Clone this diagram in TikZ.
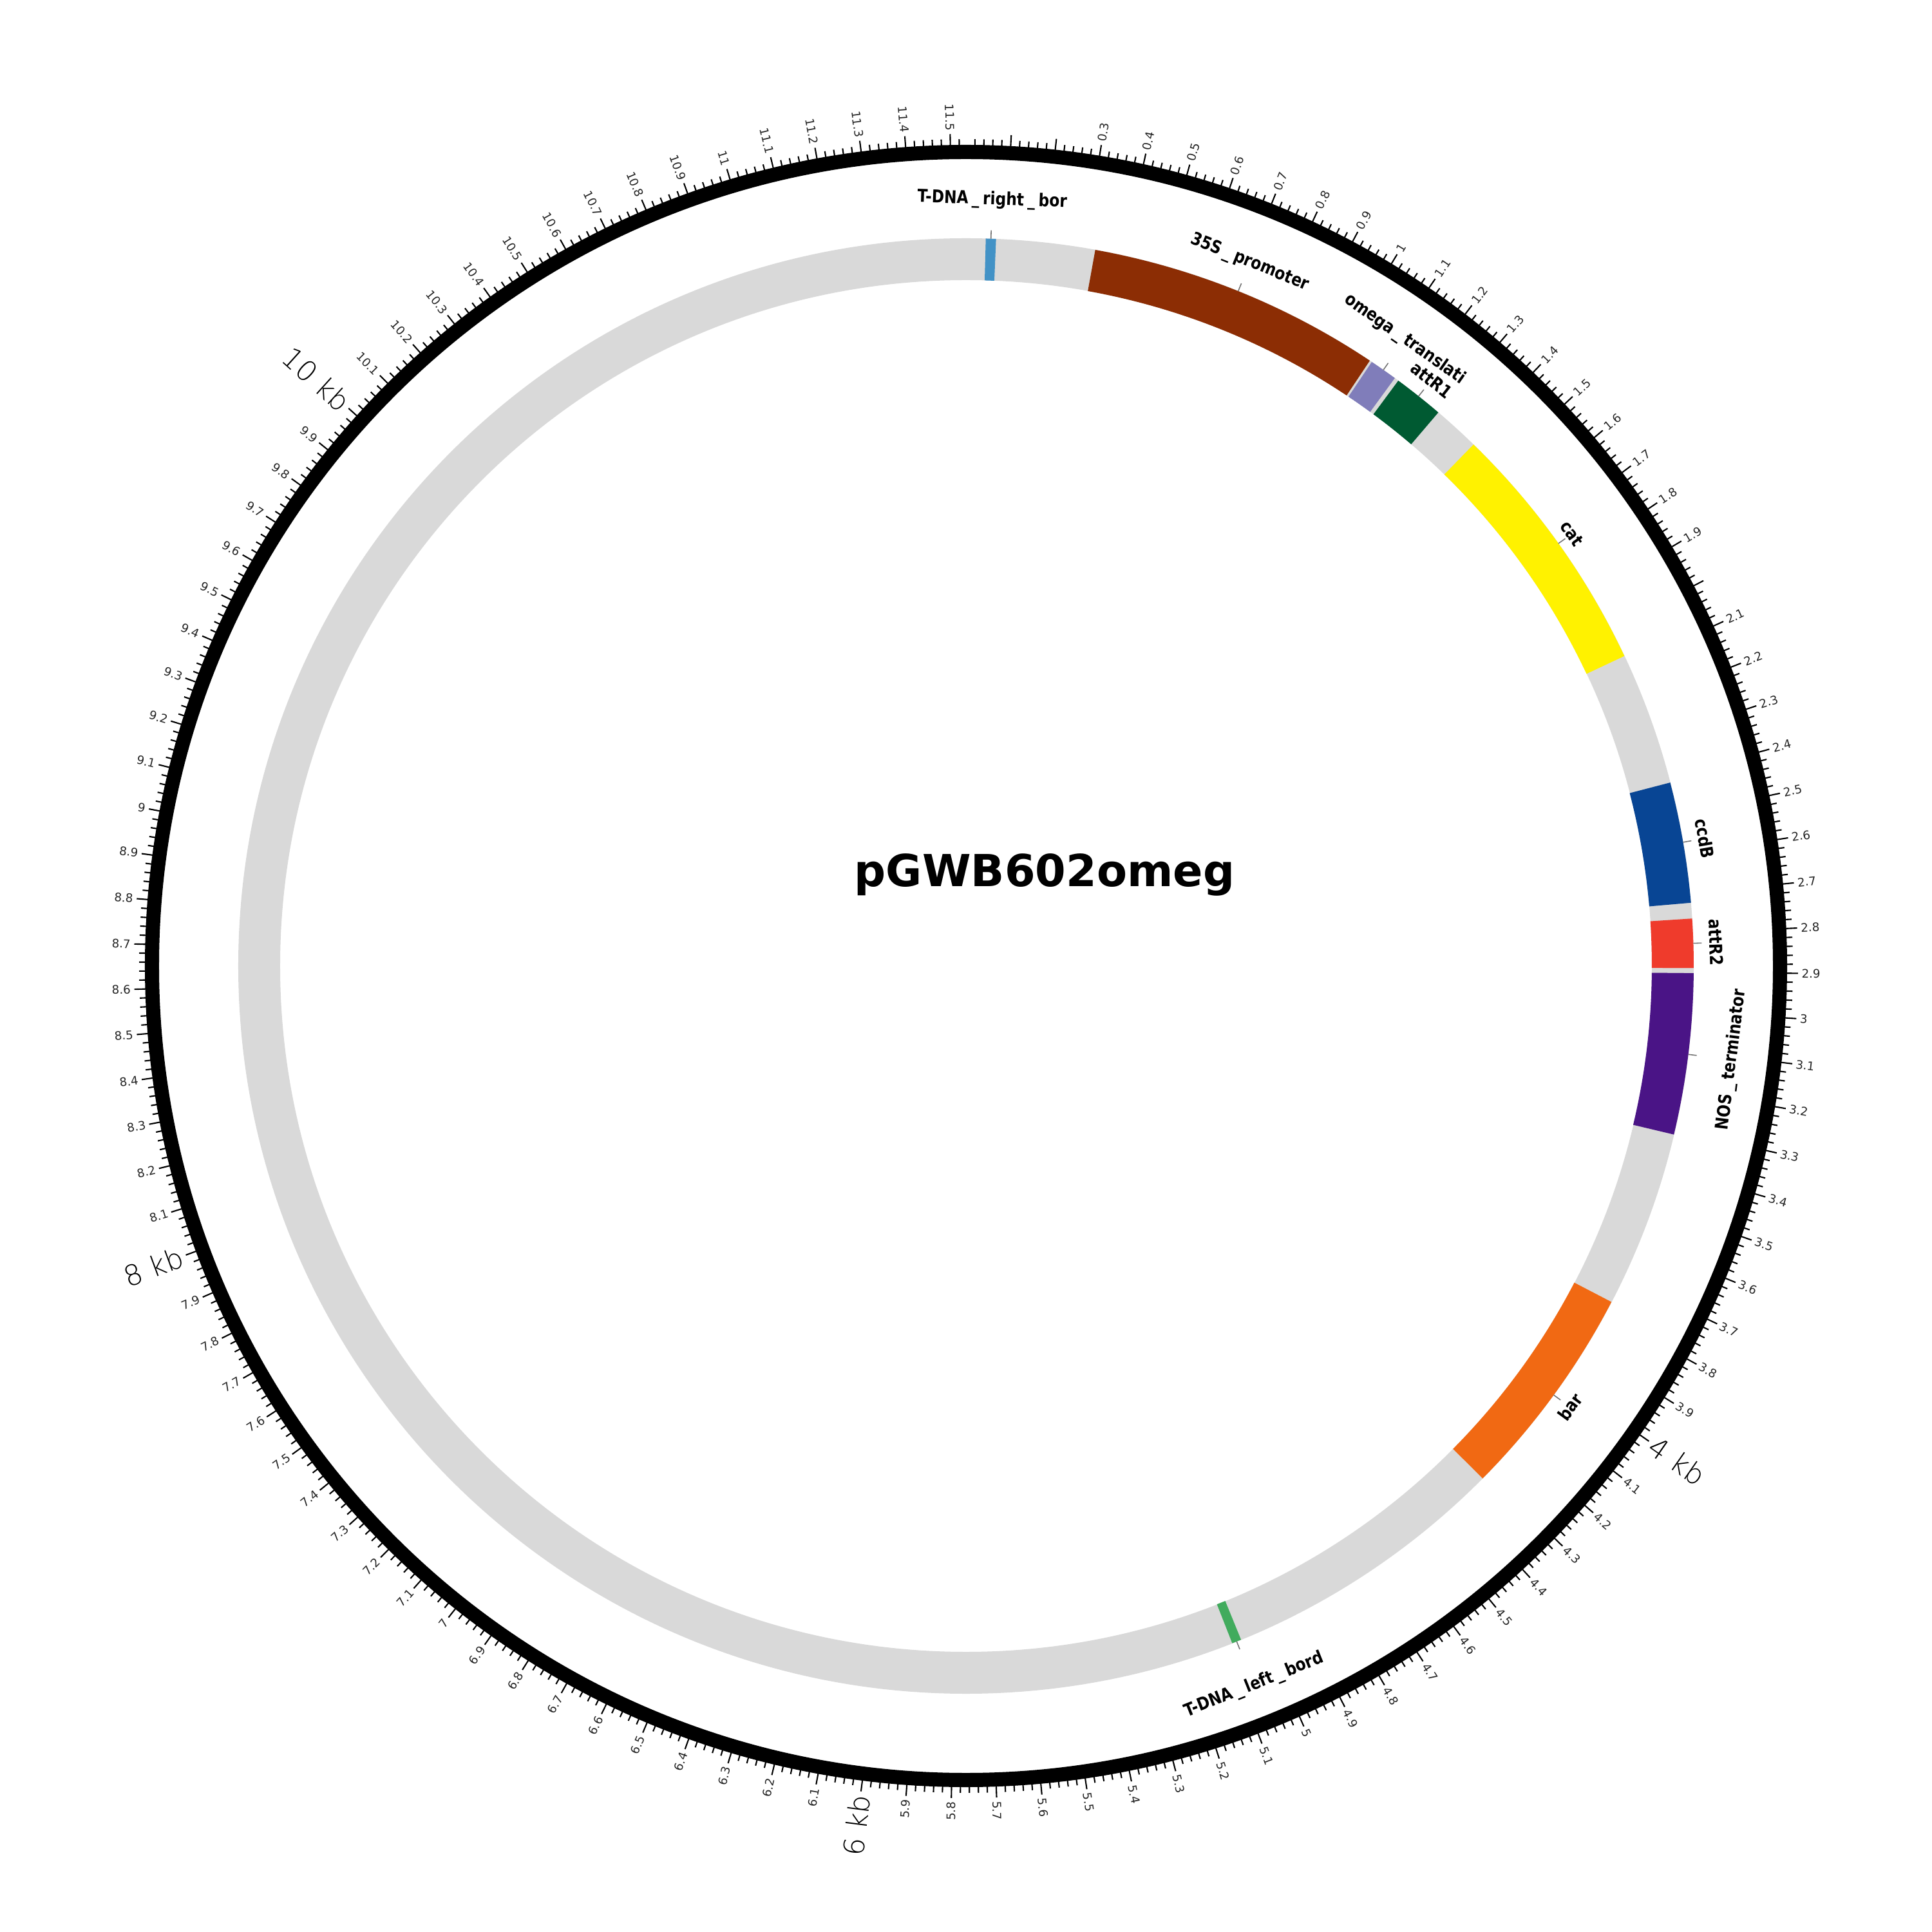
\documentclass[tikz,border=0pt]{standalone}
\usepackage{fontspec}
\setmainfont{DejaVu Sans}
\newfontfamily\featfont{DejaVu Sans}[FakeStretch=0.85]
\newfontfamily\kbfont{DejaVu Sans ExtraLight}

\definecolor{ringgray}{RGB}{217,217,217}
\definecolor{rbblue}{RGB}{66,146,198}
\definecolor{probrown}{RGB}{140,45,4}
\definecolor{omglilac}{RGB}{128,125,186}
\definecolor{attgreen}{RGB}{0,90,50}
\definecolor{catyellow}{RGB}{255,242,0}
\definecolor{ccdblue}{RGB}{8,69,148}
\definecolor{attred}{RGB}{239,59,44}
\definecolor{nospurple}{RGB}{74,20,134}
\definecolor{barorange}{RGB}{241,105,19}
\definecolor{lbgreen}{RGB}{65,171,93}

% plasmid length (bp)
\newcommand{\plen}{11535}
% spaced underscore in feature names
\newcommand{\usc}{\kern0.2em\_\kern0.2em}

\begin{document}
\begin{tikzpicture}[
  backbone/.style={draw=ringgray, line width=6.5mm},
  scalering/.style={draw=black, line width=2.2mm},
  minortick/.style={draw=black, line width=0.6pt},
  ticklabel/.style={font=\fontsize{5.2}{6}\selectfont, text=black!85, inner sep=0pt},
  kblabel/.style={font=\kbfont\fontsize{12.5}{14}\selectfont, inner sep=0pt},
  featlabel/.style={font=\featfont\bfseries\fontsize{7.8}{9}\selectfont, inner sep=0pt},
  leader/.style={draw=black!55, line width=0.45pt},
  plasmidname/.style={font=\bfseries\fontsize{19.5}{22}\selectfont}
]
  \useasboundingbox (-15,-15) rectangle (15,15);

  % Rings:
  \draw[backbone] (0,0) circle[radius=10.975];
  \draw[scalering] (0,0) circle[radius=12.64];

  % Ticks (every 20 bp):
  \foreach \i in {1,...,576}{
    \pgfmathsetmacro{\a}{90-\i*20/\plen*360}
    \pgfmathtruncatemacro{\m}{mod(\i,5)}
    \ifnum\m=0
      \draw[minortick] (\a:12.70) -- (\a:12.92);
    \else
      \draw[minortick] (\a:12.70) -- (\a:12.84);
    \fi
  }

  % Scale labels:
  \foreach \k in {3,...,115}{
    \pgfmathtruncatemacro{\ip}{(\k+0.01)/10}
    \pgfmathtruncatemacro{\fp}{\k-10*\ip}
    \pgfmathsetmacro{\a}{90-\k*100/\plen*360}
    \pgfmathsetmacro{\rot}{\a<-90 ? \a+180 : \a}
    \ifdim\a pt<-90pt \def\anc{east}\else\def\anc{west}\fi
    \ifnum\fp=0
      \ifodd\ip
        \node[ticklabel, anchor=\anc, rotate=\rot] (tl\k) at (\a:12.97) {\ip};
      \else\ifnum\ip>2
        \node[kblabel, anchor=\anc, rotate=\rot] (kb\ip) at (\a:12.97) {\ip\ kb};
      \fi\fi
    \else
      \node[ticklabel, anchor=\anc, rotate=\rot] (tl\k) at (\a:12.97) {\ip.\fp};
    \fi
  }

  % Features:
  \foreach \s/\e/\col/\lr/\lab [count=\n] in {
      50/76/rbblue/11.90/T-DNA\usc right\usc bor,
      328/1080/probrown/11.78/35S\usc promoter,
      1086/1157/omglilac/11.88/omega\usc translati,
      1168/1297/attgreen/11.62/attR1,
      1417/2076/catyellow/11.56/cat,
      2416/2724/ccdblue/11.64/ccdB,
      2764/2889/attred/11.65/attR2,
      2902/3313/nospurple/11.98/NOS\usc terminator,
      3765/4318/barorange/11.61/bar,
      5056/5080/lbgreen/12.03/T-DNA\usc left\usc bord}{
    \pgfmathsetmacro{\aS}{90-\s/\plen*360}
    \pgfmathsetmacro{\aE}{90-\e/\plen*360}
    \pgfmathsetmacro{\aM}{(\aS+\aE)/2}
    \pgfmathsetmacro{\rot}{\aM<0 ? \aM+90 : \aM-90}
    \fill[\col] (\aS:11.30) arc[start angle=\aS, end angle=\aE, radius=11.30]
      -- (\aE:10.65) arc[start angle=\aE, end angle=\aS, radius=10.65] -- cycle;
    \draw[leader] (\aM:11.30) -- (\aM:11.43);
    \node[featlabel, rotate=\rot] (feat\n) at (\aM:\lr) {\lab};
  }

  % Name:
  \node[plasmidname] (pname) at (1.22,1.42) {pGWB602omeg};

\end{tikzpicture}
\end{document}
